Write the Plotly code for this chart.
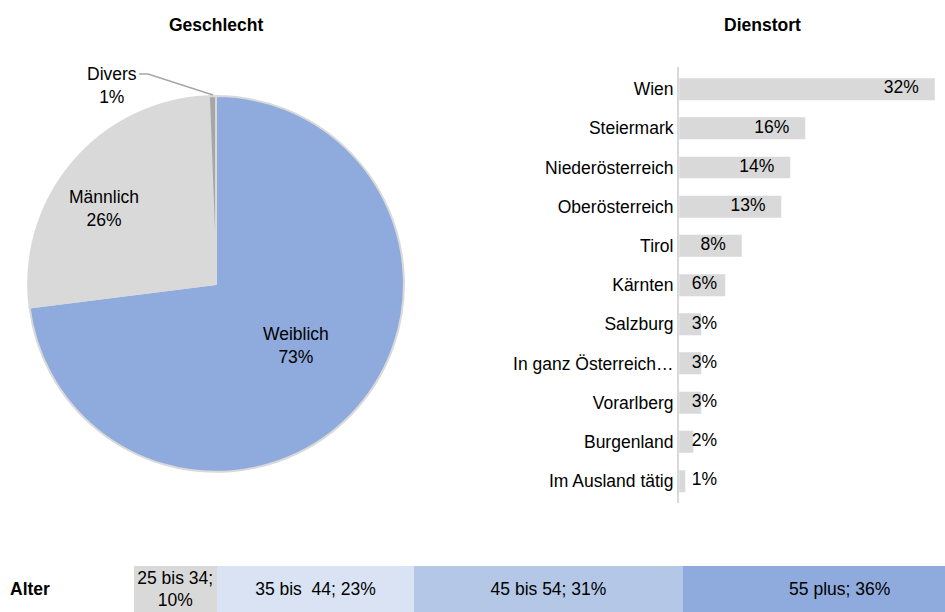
import plotly.graph_objects as go

FONT = "Liberation Sans, Arial, sans-serif"
FS = 17.5

# Geschlecht (pie)
gender_labels = ["Weiblich", "Männlich", "Divers"]
gender_values = [73.0, 26.4, 0.6]
gender_colors = ["#8FAADC", "#D9D9D9", "#A6A6A6"]

# Dienstort (bars)
place_labels = ["Wien", "Steiermark", "Niederösterreich", "Oberösterreich", "Tirol",
                "Kärnten", "Salzburg", "In ganz Österreich…", "Vorarlberg",
                "Burgenland", "Im Ausland tätig"]
place_values = [32.2, 15.9, 14.0, 12.9, 7.9, 5.8, 2.8, 2.8, 2.8, 1.8, 0.8]

# Alter (100% stacked bar)
age_labels = ["25 bis 34;<br>10%", "35 bis\u00a0 44; 23%", "45 bis 54; 31%", "55 plus; 36%"]
age_values = [9.6, 22.9, 31.1, 36.4]
age_colors = ["#D9D9D9", "#DAE3F3", "#B4C7E7", "#8FAADC"]

fig = go.Figure()

# Pie
fig.add_trace(go.Pie(
    labels=gender_labels, values=gender_values, sort=False,
    direction="clockwise", rotation=0,
    marker=dict(colors=gender_colors, line=dict(color="#D9D9D9", width=2)),
    textinfo="none",
    domain=dict(x=[0.0186, 0.4386], y=[0.229, 0.843]),
    showlegend=False, hoverinfo="label+percent",
))

# Dienstort bars
fig.add_trace(go.Bar(
    y=place_labels, x=place_values, orientation="h", width=0.56,
    marker=dict(color="#D9D9D9"), xaxis="x", yaxis="y", showlegend=False,
))
fig.add_trace(go.Scatter(
    y=place_labels, x=[max(v - 2.0, 4.8) for v in place_values],
    text=[f"{round(v)}%" for v in place_values], mode="text",
    textposition="middle left", cliponaxis=False,
    textfont=dict(family=FONT, size=FS, color="black"),
    xaxis="x", yaxis="y", showlegend=False, hoverinfo="skip",
))

# Alter stacked bar
for lab, val, col in zip(age_labels, age_values, age_colors):
    fig.add_trace(go.Bar(
        y=[0], x=[val], orientation="h", width=1, name=lab,
        marker=dict(color=col, line=dict(width=0)),
        text=[lab], texttemplate="%{text}", textposition="inside",
        insidetextanchor="middle", constraintext="none",
        textfont=dict(family=FONT, size=FS, color="black"),
        xaxis="x2", yaxis="y2", showlegend=False,
    ))

def ann(text, x, y, xanchor="center"):
    return dict(text=text, x=x / 945, y=1 - y / 612, xref="paper", yref="paper",
                xanchor=xanchor, yanchor="middle", showarrow=False,
                font=dict(family=FONT, size=FS, color="black"))

fig.update_layout(
    width=945, height=612,
    margin=dict(l=0, r=0, t=0, b=0),
    paper_bgcolor="white", plot_bgcolor="white",
    barmode="stack",
    font=dict(family=FONT, size=FS, color="black"),
    xaxis=dict(domain=[679 / 945, 1.0], range=[0, 33.5], visible=False),
    yaxis=dict(domain=[0.1784, 0.890], autorange="reversed", showline=True,
               linecolor="#D9D9D9", linewidth=2, ticks="", showgrid=False,
               tickfont=dict(family=FONT, size=FS, color="black"),
               anchor="x"),
    xaxis2=dict(domain=[133.8 / 945, 1.0], range=[0, 94.0], visible=False, anchor="y2"),
    yaxis2=dict(domain=[0, 1 - 566 / 612], range=[-0.5, 0.5], visible=False, anchor="x2"),
    annotations=[
        ann("<b>Geschlecht</b>", 216, 25),
        ann("<b>Dienstort</b>", 762, 25),
        ann("<b>Alter</b>", 8, 589, xanchor="left"),
        ann(f"{gender_labels[2]}<br>{round(gender_values[2])}%", 112, 86),
        ann(f"{gender_labels[1]}<br>{round(gender_values[1])}%", 104, 208),
        ann(f"{gender_labels[0]}<br>{round(gender_values[0])}%", 296, 345),
    ],
    shapes=[
        dict(type="path", xref="paper", yref="paper",
             path=f"M {139/945},{1-74/612} L {148/945},{1-74/612} L {213/945},{1-95/612}",
             line=dict(color="#A6A6A6", width=1.5)),
    ],
)

fig.write_html("out.html", config={"displayModeBar": False},
               post_script="document.body.style.margin='0';")
